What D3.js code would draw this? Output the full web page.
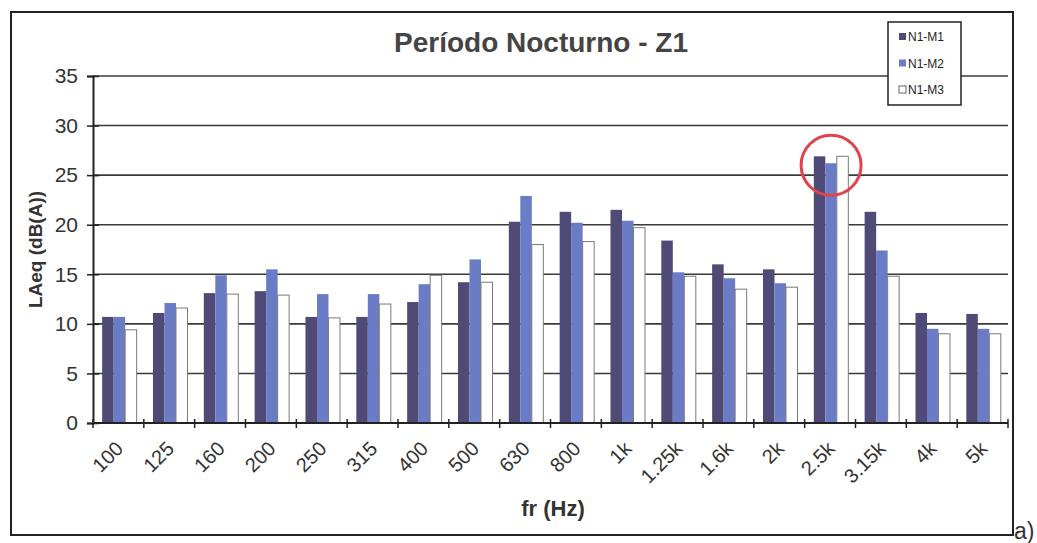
<!DOCTYPE html>
<html>
<head>
<meta charset="utf-8">
<script src="https://cdn.jsdelivr.net/npm/d3@7"></script>
<style>
  body { margin: 0; background: #fff; }
  svg { font-family: "Liberation Sans", Arial, sans-serif; display: block; }
</style>
</head>
<body>
<svg width="1037" height="543"></svg>
<script>
// Data
let categories = ["100", "125", "160", "200", "250", "315", "400", "500", "630", "800",
                  "1k", "1.25k", "1.6k", "2k", "2.5k", "3.15k", "4k", "5k"];
let seriesNames = ["N1-M1", "N1-M2", "N1-M3"];
let m1 = [10.7, 11.1, 13.1, 13.3, 10.7, 10.7, 12.2, 14.2, 20.3, 21.3, 21.5, 18.4, 16.0, 15.5, 26.9, 21.3, 11.1, 11.0];
let m2 = [10.7, 12.1, 14.9, 15.5, 13.0, 13.0, 14.0, 16.5, 22.9, 20.2, 20.4, 15.2, 14.6, 14.1, 26.2, 17.4, 9.5, 9.5];
let m3 = [9.4, 11.6, 13.0, 12.9, 10.6, 12.0, 14.9, 14.2, 18.0, 18.3, 19.7, 14.8, 13.5, 13.7, 26.9, 14.8, 9.0, 9.0];
let yTicks = [0, 5, 10, 15, 20, 25, 30, 35];
let highlightCat = "2.5k", highlightVal = 26;

let svg = d3.select("svg");
let width = +svg.attr("width");
let height = +svg.attr("height");

let colors = { "N1-M1": "#504a76", "N1-M2": "#6b7cc6", "N1-M3": "#ffffff" };

// plot area
let plotLeft = 93, plotRight = 1008, plotTop = 76, plotBottom = 423;

let x = d3.scaleBand().domain(categories).range([plotLeft, plotRight]).padding(0);
let x1 = d3.scaleBand().domain(seriesNames).range([0, x.bandwidth()])
  .paddingInner(0).paddingOuter(0.71).align(0.56);
let y = d3.scaleLinear().domain([0, 35]).range([plotBottom, plotTop]);

// outer frame
svg.append("rect")
  .attr("x", 11).attr("y", 12)
  .attr("width", 1002).attr("height", 523)
  .attr("fill", "none")
  .attr("stroke", "#222")
  .attr("stroke-width", 2);

// gridlines
svg.append("g")
  .selectAll("line")
  .data(yTicks.filter(d => d > 0))
  .enter().append("line")
  .attr("x1", plotLeft).attr("x2", plotRight)
  .attr("y1", d => y(d)).attr("y2", d => y(d))
  .attr("stroke", "#3a3a3a")
  .attr("stroke-width", 1.6);

// bars
let rows = categories.map((c, i) => ({ cat: c, vals: [m1[i], m2[i], m3[i]] }));
svg.append("g")
  .selectAll("g")
  .data(rows)
  .enter().append("g")
  .attr("transform", d => "translate(" + x(d.cat) + ",0)")
  .selectAll("rect")
  .data(d => d.vals.map((v, j) => ({ name: seriesNames[j], value: v })))
  .enter().append("rect")
  .attr("x", d => x1(d.name))
  .attr("y", d => y(d.value))
  .attr("width", x1.bandwidth())
  .attr("height", d => plotBottom - y(d.value))
  .attr("fill", d => colors[d.name])
  .attr("stroke", d => d.name === "N1-M3" ? "#7a7a7a" : "none")
  .attr("stroke-width", 1);

// y axis
let yAxis = svg.append("g")
  .attr("transform", "translate(" + plotLeft + ",0)")
  .call(d3.axisLeft(y).tickValues(yTicks).tickSize(6).tickPadding(9));
yAxis.select(".domain").attr("stroke", "#222").attr("stroke-width", 2);
yAxis.selectAll(".tick line").attr("x1", 6).attr("x2", -6).attr("stroke", "#222").attr("stroke-width", 1.5);
yAxis.selectAll(".tick text")
  .attr("font-size", "21px")
  .attr("fill", "#333")
  .attr("font-family", "Liberation Sans, Arial, sans-serif");

// x axis line + boundary ticks
svg.append("line")
  .attr("x1", plotLeft).attr("x2", plotRight)
  .attr("y1", plotBottom).attr("y2", plotBottom)
  .attr("stroke", "#222").attr("stroke-width", 2);
let bounds = categories.map(c => x(c)).concat([x.range()[1]]);
svg.append("g")
  .selectAll("line")
  .data(bounds)
  .enter().append("line")
  .attr("x1", d => d).attr("x2", d => d)
  .attr("y1", plotBottom - 4).attr("y2", plotBottom + 5)
  .attr("stroke", "#222").attr("stroke-width", 1.5);

// x labels, rotated
svg.append("g")
  .selectAll("text")
  .data(categories)
  .enter().append("text")
  .attr("transform", d => "translate(" + (x(d) + x.bandwidth() / 2 + 6) + "," + (plotBottom + 27) + ")rotate(-45)")
  .attr("text-anchor", "end")
  .attr("font-size", "20px")
  .attr("fill", "#333")
  .text(d => d);

// title
svg.append("text")
  .attr("x", 541).attr("y", 52)
  .attr("text-anchor", "middle")
  .attr("font-size", "28px")
  .attr("font-weight", "bold")
  .attr("fill", "#444")
  .text("Período Nocturno - Z1");

// axis titles
svg.append("text")
  .attr("transform", "translate(42," + ((plotTop + plotBottom) / 2) + ")rotate(-90)")
  .attr("text-anchor", "middle")
  .attr("font-size", "19px")
  .attr("font-weight", "bold")
  .attr("fill", "#333")
  .text("LAeq (dB(A))");

svg.append("text")
  .attr("x", 553).attr("y", 516)
  .attr("text-anchor", "middle")
  .attr("font-size", "22px")
  .attr("font-weight", "bold")
  .attr("fill", "#333")
  .text("fr (Hz)");

svg.append("text")
  .attr("x", 1014).attr("y", 539)
  .attr("font-size", "23px")
  .attr("fill", "#333")
  .text("a)");

// legend
let legend = svg.append("g").attr("transform", "translate(888,22)");
legend.append("rect")
  .attr("width", 73).attr("height", 83)
  .attr("fill", "#fff")
  .attr("stroke", "#222")
  .attr("stroke-width", 1.5);
let items = legend.selectAll(".item")
  .data(seriesNames)
  .enter().append("g")
  .attr("class", "item")
  .attr("transform", (d, i) => "translate(11," + (15 + i * 26.5) + ")");
items.append("rect")
  .attr("x", 0).attr("y", -4)
  .attr("width", 7).attr("height", 7)
  .attr("fill", d => colors[d])
  .attr("stroke", d => d === "N1-M3" ? "#666" : "none");
items.append("text")
  .attr("x", 9).attr("y", 4)
  .attr("font-size", "12px")
  .attr("fill", "#222")
  .text(d => d);

// red highlight circle
svg.append("circle")
  .attr("cx", x(highlightCat) + x.bandwidth() / 2 + 1)
  .attr("cy", y(highlightVal))
  .attr("r", 30)
  .attr("fill", "none")
  .attr("stroke", "#e2434b")
  .attr("stroke-width", 3);
</script>
</body>
</html>
